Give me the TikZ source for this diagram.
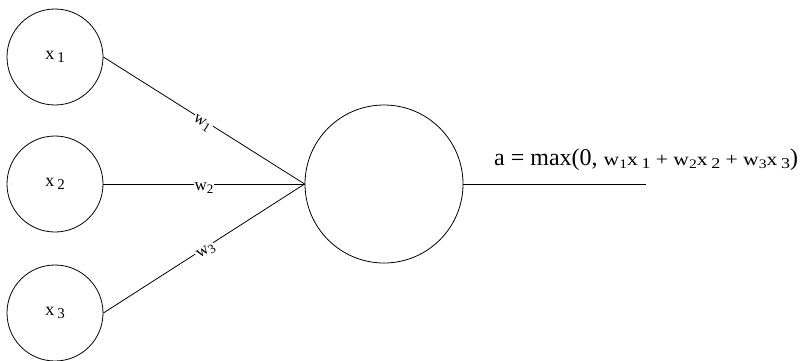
\documentclass[tikz,border=0pt]{standalone}
\usepackage{fontspec}
\usepackage{graphicx}
\setmainfont{Liberation Serif}
\usetikzlibrary{positioning}

\tikzset{
  inp/.style={draw, circle, line width=0.8pt, minimum size=96pt, inner sep=0pt,
    font=\fontsize{18}{20}\selectfont},
  outp/.style={draw, circle, line width=0.8pt, minimum size=158pt, inner sep=0pt},
  wlabel/.style={midway, sloped, fill=white, inner sep=1pt, yshift=-4pt,
    font=\fontsize{17}{18}\selectfont},
  conn/.style={line width=0.8pt}
}
% subscript lowered after a gap, as in the inputs
\newcommand{\lowsub}[1]{\,{\fontsize{15}{16}\selectfont\raisebox{-3pt}{#1}}}
\newcommand{\wsub}[1]{{\fontsize{13}{14}\selectfont\raisebox{-3pt}{#1}}}

\begin{document}
\begin{tikzpicture}[x=1pt, y=-1pt]
\useasboundingbox (0,0) rectangle (805,361);
% inputs
\node[inp] (x1) at (55,57) {x\lowsub{1}};
\node[inp] (x2) at (55,184) {x\lowsub{2}};
\node[inp] (x3) at (55,313) {x\lowsub{3}};
% neuron
\node[outp] (n) at (384,184) {};
% weighted connections
\draw[conn] (x1.east) -- node[wlabel] {w\wsub{1}} (n.west);
\draw[conn] (x2.east) -- node[wlabel] {w\wsub{2}} (n.west);
\draw[conn] (x3.east) -- node[wlabel] {w\wsub{3}} (n.west);
% output
\coordinate (end) at (646,184);
\draw[conn] (n.east) -- (end);
\node[anchor=base west, inner sep=0pt, font=\fontsize{24}{26}\selectfont] (f) at (494,165)
  {a = max(0, \scalebox{1.2}[1]{\fontsize{18}{20}\selectfont w\wsub{1}x\lowsub{1}\ + w\wsub{2}x\lowsub{2}\ + w\wsub{3}x\lowsub{3}})};
\end{tikzpicture}
\end{document}
